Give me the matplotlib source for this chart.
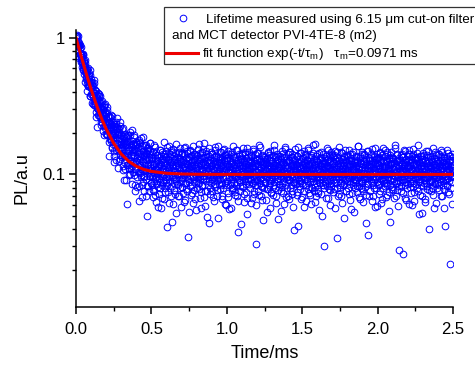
import numpy as np
import matplotlib
matplotlib.use("Agg")
from matplotlib import pyplot as plt
from matplotlib.lines import Line2D
from matplotlib.patches import Rectangle
from matplotlib.ticker import FixedLocator, LogLocator, NullFormatter, FuncFormatter

plt.rcParams["font.family"] = ["Liberation Sans", "DejaVu Sans"]
plt.rcParams["mathtext.fontset"] = "custom"
plt.rcParams["mathtext.rm"] = "Liberation Sans"
plt.rcParams["mathtext.it"] = "Liberation Sans:italic"

# measured PL (units of 1e-3 a.u.), two interleaved sweeps, 2.5 us per sample
t_step = 0.0025
pl_decay_a = [
    1024, 881, 1019, 901, 1032, 819, 879, 716, 881, 902,
    761, 841, 663, 758, 854, 663, 724, 667, 589, 743,
    680, 606, 671, 478, 615, 657, 513, 549, 460, 581,
    494, 600, 516, 442, 527, 455, 577, 377, 464, 435,
    499, 390, 449, 332, 410, 446, 371, 470, 324, 394,
    359, 412, 284, 377, 407, 306, 347, 223, 358, 303,
    343, 272, 390, 287, 311, 242, 336, 306, 253, 344,
    240, 279, 298, 195, 313, 253, 280, 231, 327, 199,
    277, 228, 196, 294, 209, 242, 268, 136, 241, 221,
    191, 265, 221, 177, 235, 155, 269, 193, 216, 168,
    233, 194, 137, 221, 202, 170, 233, 150, 206, 259,
    170, 199, 111, 215, 148, 184, 225, 157, 130, 195,
    166, 216, 135, 154, 191, 107, 170, 185, 123, 165,
    109, 172, 190, 129, 61, 176, 139, 194, 148, 118,
    168, 109, 154, 204, 128, 112, 159, 139, 176, 85,
    147, 168, 121, 99, 189, 151, 76, 163, 125, 168,
    109, 168, 132, 96, 146, 122, 179, 82, 136, 103,
    171, 117, 99, 140, 68, 161, 125, 106, 187, 88,
    136, 75, 147, 129, 108, 165, 92, 140, 50, 149,
    119, 151, 82, 142, 130, 97, 169, 108, 87, 135,
]
pl_decay_b = [
    996, 886, 1048, 866, 877, 945, 733, 874, 911, 765,
    759, 881, 696, 722, 755, 606, 759, 631, 757, 582,
    541, 636, 659, 562, 693, 495, 555, 580, 407, 594,
    558, 441, 495, 548, 449, 482, 372, 533, 428, 478,
    427, 386, 451, 476, 329, 380, 488, 347, 397, 324,
    333, 413, 339, 261, 364, 381, 307, 330, 270, 396,
    377, 290, 261, 334, 375, 264, 304, 231, 284, 317,
    273, 208, 299, 274, 225, 320, 241, 219, 288, 236,
    258, 223, 314, 195, 265, 223, 173, 243, 269, 195,
    183, 219, 273, 183, 198, 228, 159, 242, 180, 123,
    225, 148, 188, 227, 167, 241, 127, 197, 171, 215,
    153, 194, 220, 126, 200, 166, 139, 240, 156, 172,
    194, 158, 138, 220, 116, 163, 137, 175, 91, 196,
    137, 187, 91, 167, 144, 194, 117, 135, 173, 99,
    152, 111, 195, 125, 101, 165, 133, 213, 116, 150,
    104, 168, 124, 195, 139, 110, 154, 84, 174, 125,
    148, 81, 123, 158, 104, 140, 64, 172, 118, 129,
    105, 135, 95, 185, 110, 83, 148, 124, 163, 97,
    138, 96, 165, 117, 69, 143, 110, 128, 155, 82,
    112, 157, 97, 133, 76, 148, 117, 171, 102, 87,
]
pl_tail_a = [
    112, 84, 131, 97, 68, 145, 103, 120, 76, 92, 158, 109, 87, 63, 126, 101, 139, 81, 115, 94,
    72, 133, 106, 88, 150, 119, 57, 98, 127, 83, 110, 142, 91, 66, 104, 137, 79, 121, 96, 148,
    86, 113, 41, 129, 102, 74, 161, 95, 118, 89, 135, 70, 107, 124, 82, 99, 153, 61, 116, 93,
    128, 77, 105, 144, 90, 117, 52, 134, 100, 85, 122, 69, 147, 96, 111, 80, 130, 103, 58, 125,
    94, 140, 81, 108, 123, 73, 99, 156, 87, 114, 65, 132, 101, 78, 119, 143, 92, 106, 35, 127,
    109, 88, 151, 97, 71, 136, 115, 83, 104, 126, 62, 95, 141, 118, 77, 100, 131, 90, 112, 55,
    138, 103, 79, 121, 94, 166, 86, 110, 67, 129, 98, 117, 74, 146, 105, 82, 124, 93, 154, 68,
    97, 120, 59, 133, 107, 89, 149, 76, 115, 101, 128, 84, 44, 111, 137, 95, 72, 122, 104, 87,
    116, 75, 142, 99, 126, 64, 108, 91, 159, 81, 119, 102, 135, 70, 96, 113, 48, 130, 85, 106,
    123, 92, 78, 145, 100, 118, 66, 134, 87, 111, 152, 79, 104, 127, 95, 61, 139, 109, 83, 120,
    90, 131, 105, 73, 148, 96, 114, 56, 125, 102, 86, 141, 119, 77, 108, 93, 162, 80, 117, 99,
    134, 71, 112, 97, 127, 84, 103, 150, 69, 121, 94, 38, 110, 136, 88, 115, 76, 129, 101, 143,
    82, 118, 95, 157, 106, 63, 124, 89, 113, 140, 74, 98, 132, 107, 51, 126, 92, 117, 85, 109,
    147, 100, 79, 121, 93, 138, 67, 111, 104, 87, 154, 97, 122, 72, 115, 131, 83, 106, 60, 128,
    91, 144, 108, 75, 119, 98, 165, 86, 102, 125, 70, 113, 94, 137, 81, 105, 46, 120, 99, 133,
    115, 87, 130, 65, 107, 123, 96, 78, 146, 101, 118, 84, 109, 139, 90, 57, 127, 112, 74, 103,
    126, 95, 71, 117, 151, 88, 104, 135, 80, 99, 121, 62, 142, 108, 93, 116, 77, 130, 102, 85,
    110, 137, 92, 54, 124, 103, 81, 148, 97, 119, 73, 106, 131, 89, 114, 160, 68, 100, 123, 95,
    79, 112, 140, 98, 66, 127, 91, 108, 145, 83, 116, 101, 75, 134, 96, 120, 58, 111, 88, 129,
    104, 153, 86, 118, 93, 71, 136, 109, 99, 124, 42, 115, 87, 143, 102, 78, 126, 94, 112, 68,
    131, 97, 114, 83, 149, 105, 76, 122, 92, 138, 110, 64, 127, 100, 89, 117, 155, 73, 106, 120,
    88, 125, 102, 61, 135, 94, 112, 79, 144, 107, 85, 119, 98, 167, 81, 113, 69, 128, 103, 91,
    141, 76, 109, 123, 96, 55, 118, 87, 132, 101, 72, 147, 93, 115, 84, 126, 108, 30, 121, 99,
    113, 90, 136, 104, 67, 127, 82, 116, 97, 150, 78, 111, 124, 92, 60, 133, 105, 86, 119, 142,
    95, 121, 74, 108, 139, 88, 101, 57, 130, 114, 93, 146, 80, 117, 103, 125, 70, 98, 158, 84,
    122, 100, 87, 145, 69, 112, 96, 129, 83, 106, 118, 48, 134, 91, 110, 76, 127, 102, 139, 89,
    107, 133, 79, 115, 94, 152, 85, 120, 65, 103, 126, 97, 73, 140, 109, 88, 116, 99, 53, 124,
    86, 118, 104, 137, 91, 74, 128, 110, 95, 161, 82, 113, 100, 66, 131, 107, 90, 122, 78, 145,
    119, 92, 63, 126, 103, 140, 81, 111, 98, 125, 71, 148, 94, 117, 85, 36, 120, 106, 132, 97,
    76, 128, 99, 114, 87, 154, 102, 69, 123, 93, 135, 80, 108, 119, 58, 130, 96, 112, 88, 142,
    110, 84, 131, 97, 72, 118, 143, 89, 105, 62, 127, 100, 115, 79, 156, 94, 121, 86, 108, 137,
    93, 116, 68, 124, 101, 147, 83, 112, 96, 129, 74, 107, 45, 138, 91, 119, 103, 81, 125, 99,
    132, 77, 109, 121, 90, 163, 98, 114, 70, 126, 105, 87, 140, 59, 117, 95, 128, 82, 111, 104,
    88, 139, 102, 75, 120, 93, 134, 108, 26, 115, 97, 150, 84, 123, 67, 106, 130, 92, 118, 79,
    125, 96, 113, 61, 141, 87, 104, 122, 99, 73, 136, 110, 90, 153, 81, 117, 101, 64, 127, 94,
    107, 131, 85, 119, 98, 144, 76, 112, 129, 92, 51, 121, 103, 88, 137, 95, 115, 70, 124, 100,
    82, 117, 138, 94, 109, 66, 128, 101, 86, 149, 113, 78, 122, 97, 105, 133, 89, 40, 116, 102,
    135, 91, 111, 80, 126, 104, 157, 93, 71, 119, 98, 130, 85, 114, 62, 139, 106, 95, 121, 87,
    103, 142, 77, 116, 99, 125, 88, 108, 134, 69, 120, 94, 146, 83, 112, 100, 57, 127, 91, 115,
    97, 123, 105, 84, 151, 92, 118, 74, 110, 136, 89, 102, 22, 128, 95, 113, 80, 140, 99, 107, 118,
]
pl_tail_b = [
    125, 98, 141, 77, 118, 104, 163, 89, 132, 110, 71, 147, 96, 121, 85, 139, 107, 58, 128, 115,
    93, 152, 119, 80, 136, 101, 124, 67, 145, 112, 88, 130, 174, 99, 117, 74, 142, 106, 91, 135,
    120, 84, 158, 109, 127, 62, 114, 97, 140, 123, 79, 151, 103, 131, 45, 118, 95, 146, 112, 87,
    137, 105, 72, 129, 116, 168, 92, 121, 100, 143, 83, 113, 134, 69, 126, 108, 155, 90, 119, 101,
    81, 144, 111, 127, 96, 63, 138, 115, 102, 159, 86, 122, 107, 76, 148, 94, 130, 117, 53, 133,
    114, 99, 149, 82, 124, 108, 139, 73, 118, 95, 162, 104, 128, 88, 111, 142, 66, 120, 136, 97,
    106, 130, 87, 153, 115, 78, 125, 101, 143, 92, 119, 57, 134, 110, 147, 84, 123, 98, 113, 170,
    131, 75, 117, 102, 140, 94, 126, 112, 49, 137, 105, 121, 89, 156, 100, 128, 80, 116, 145, 93,
    118, 142, 96, 110, 68, 133, 107, 150, 85, 124, 113, 98, 138, 77, 119, 103, 161, 91, 127, 109,
    99, 122, 135, 83, 114, 146, 102, 70, 129, 117, 94, 154, 108, 125, 86, 139, 111, 60, 132, 120,
    89, 127, 104, 68, 141, 96, 115, 83, 132, 108, 57, 122, 99, 146, 79, 113, 101, 137, 86, 118,
    106, 74, 133, 95, 119, 150, 88, 110, 64, 128, 102, 91, 140, 117, 82, 124, 97, 43, 131, 112,
    98, 139, 81, 116, 103, 126, 72, 145, 93, 109, 120, 85, 155, 100, 67, 134, 107, 90, 123, 114,
    127, 92, 110, 62, 136, 101, 118, 86, 148, 97, 113, 76, 125, 104, 142, 89, 31, 121, 95, 130,
    84, 116, 143, 99, 71, 129, 107, 94, 158, 82, 111, 124, 100, 65, 138, 93, 117, 103, 80, 126,
    109, 135, 88, 120, 97, 53, 131, 112, 78, 144, 102, 91, 127, 115, 86, 149, 99, 73, 122, 106,
    93, 121, 102, 139, 84, 111, 164, 96, 118, 70, 133, 105, 89, 126, 108, 47, 137, 100, 114, 81,
    119, 98, 130, 75, 115, 104, 142, 87, 123, 109, 61, 135, 94, 117, 101, 153, 83, 128, 96, 112,
    102, 69, 126, 113, 91, 147, 105, 122, 80, 134, 99, 117, 72, 140, 108, 88, 125, 39, 116, 97,
    128, 107, 85, 119, 100, 137, 74, 114, 95, 159, 103, 82, 129, 111, 90, 123, 66, 143, 106, 118,
    87, 132, 109, 96, 124, 58, 117, 101, 140, 83, 113, 127, 92, 105, 150, 78, 120, 99, 134, 71,
    115, 94, 138, 81, 106, 121, 97, 163, 89, 112, 76, 130, 103, 118, 63, 136, 100, 86, 125, 108,
    96, 120, 73, 144, 110, 88, 127, 104, 92, 135, 116, 50, 122, 98, 141, 84, 113, 107, 79, 131,
    124, 86, 112, 101, 156, 93, 118, 67, 129, 105, 90, 139, 114, 77, 126, 99, 145, 82, 110, 103,
    100, 137, 91, 121, 78, 113, 104, 148, 87, 125, 97, 34, 133, 109, 95, 119, 72, 128, 102, 115,
    109, 81, 130, 98, 143, 106, 62, 122, 94, 116, 136, 85, 111, 101, 152, 75, 124, 92, 118, 104,
    120, 95, 107, 72, 127, 115, 89, 140, 100, 56, 131, 97, 119, 84, 109, 146, 93, 123, 108, 80,
    91, 134, 113, 99, 118, 82, 125, 104, 161, 88, 110, 68, 137, 96, 121, 103, 79, 142, 86, 114,
    126, 103, 76, 139, 95, 117, 108, 92, 130, 44, 122, 101, 87, 148, 111, 94, 128, 70, 115, 100,
    105, 142, 90, 119, 64, 128, 97, 112, 83, 136, 107, 123, 93, 157, 80, 116, 102, 131, 59, 121,
    97, 118, 133, 85, 110, 101, 145, 76, 124, 92, 113, 66, 138, 104, 89, 127, 99, 115, 151, 82,
    114, 87, 102, 126, 71, 140, 96, 119, 108, 54, 132, 100, 117, 83, 146, 94, 122, 111, 78, 135,
    93, 129, 110, 67, 121, 98, 155, 86, 115, 104, 139, 77, 126, 101, 90, 118, 28, 132, 107, 96,
    124, 100, 82, 141, 106, 119, 91, 134, 73, 112, 97, 148, 88, 120, 103, 65, 127, 114, 99, 137,
    85, 111, 128, 96, 150, 81, 117, 105, 93, 130, 60, 123, 108, 142, 87, 101, 119, 74, 135, 102,
    118, 92, 104, 133, 79, 114, 97, 165, 89, 125, 106, 71, 137, 99, 116, 84, 129, 52, 110, 123,
    101, 144, 87, 116, 98, 127, 63, 121, 109, 94, 139, 82, 113, 104, 148, 77, 124, 96, 117, 88,
    129, 75, 112, 103, 136, 90, 120, 107, 57, 131, 99, 118, 86, 145, 95, 114, 102, 80, 126, 109,
    96, 122, 140, 84, 108, 117, 93, 152, 100, 69, 128, 111, 89, 124, 106, 135, 78, 119, 42, 113,
    116, 98, 131, 105, 82, 143, 94, 120, 110, 72, 126, 101, 137, 88, 115, 97, 123, 61, 108, 134,
]

# fitted curve
fit_t = [0, 0.025, 0.05, 0.075, 0.1, 0.125, 0.15, 0.175, 0.2, 0.25,
         0.3, 0.35, 0.4, 0.45, 0.5, 0.6, 0.7, 0.8, 1.0, 2.5]
fit_pl = [1.0, 0.796, 0.638, 0.516, 0.421, 0.348, 0.292, 0.248, 0.215, 0.169,
          0.141, 0.1245, 0.1146, 0.1087, 0.1052, 0.1019, 0.1007, 0.1002, 0.1, 0.1]

pl_a = np.array(pl_decay_a + pl_tail_a) / 1000.0
pl_b = np.array(pl_decay_b + pl_tail_b) / 1000.0
t_a = np.arange(len(pl_a)) * t_step
t_b = (np.arange(len(pl_b)) + 0.5) * t_step
time = np.concatenate([t_a, t_b])
pl = np.concatenate([pl_a, pl_b])

W, H = 475, 366
fig = plt.figure(figsize=(W / 100, H / 100), dpi=100)
ax = fig.add_axes([76 / W, 1 - 307 / H, (453 - 76) / W, (307 - 30) / H])

ax.plot(time, pl, "o", mfc="none", mec="#0000ff", ms=4.8, mew=0.7)
ax.plot(fit_t, fit_pl, color="#ee0000", lw=2.2)

ax.set_yscale("log")
ax.set_xlim(0, 2.5)
ax.set_ylim(0.0107, 1.14)
ax.xaxis.set_major_locator(FixedLocator([0, 0.5, 1.0, 1.5, 2.0, 2.5]))
ax.xaxis.set_minor_locator(FixedLocator([0.25, 0.75, 1.25, 1.75, 2.25]))
ax.xaxis.set_major_formatter(FuncFormatter(lambda v, p: "%.1f" % v))
ax.yaxis.set_major_locator(FixedLocator([0.01, 0.1, 1]))
ax.yaxis.set_major_formatter(FuncFormatter(lambda v, p: "%g" % v))
ax.yaxis.set_minor_locator(LogLocator(base=10, subs=np.arange(2, 10)))
ax.yaxis.set_minor_formatter(NullFormatter())

for s in ["top", "right"]:
    ax.spines[s].set_visible(False)
for s in ["left", "bottom"]:
    ax.spines[s].set_linewidth(1.1)
ax.tick_params(which="major", direction="out", length=5, width=1.1, labelsize=12)
ax.tick_params(axis="x", which="major", pad=5.5)
ax.tick_params(axis="y", which="major", pad=3)
ax.tick_params(which="minor", direction="out", length=3, width=1.0)

ax.set_xlabel("Time/ms", fontsize=13)
ax.set_ylabel("PL/a.u", fontsize=13)
ax.xaxis.set_label_coords((265 - 76) / 377, (307 - 345) / 277)
ax.yaxis.set_label_coords((31 - 76) / 377, (307 - 178) / 277)

# legend box, clipped at the right edge like the original
def fx(px):
    return px / W

def fy(py):
    return 1 - py / H

fig.patches.append(Rectangle((fx(163.5), fy(64)), fx(330), 57 / H, transform=fig.transFigure,
                             fill=False, ec="#333333", lw=0.9))
fig.lines.append(Line2D([fx(183)], [fy(18)], transform=fig.transFigure, marker="o",
                        mfc="none", mec="#0000ff", ms=4.8, mew=0.7, ls="none"))
fig.lines.append(Line2D([fx(166), fx(198)], [fy(52.5), fy(52.5)], transform=fig.transFigure,
                        color="#ee0000", lw=2.2))
fig.text(fx(206), fy(22.5), "Lifetime measured using 6.15 \u03bcm cut-on filter",
         fontsize=9.6, va="baseline")
fig.text(fx(172), fy(39.5), "and MCT detector PVI-4TE-8 (m2)", fontsize=9.6, va="baseline")
fig.text(fx(202), fy(56.5),
         "fit function exp(-t/\u03c4$_\\mathrm{m}$)   \u03c4$_\\mathrm{m}$=0.0971 ms",
         fontsize=9.6, va="baseline")

fig.savefig("out.png", dpi=100)
